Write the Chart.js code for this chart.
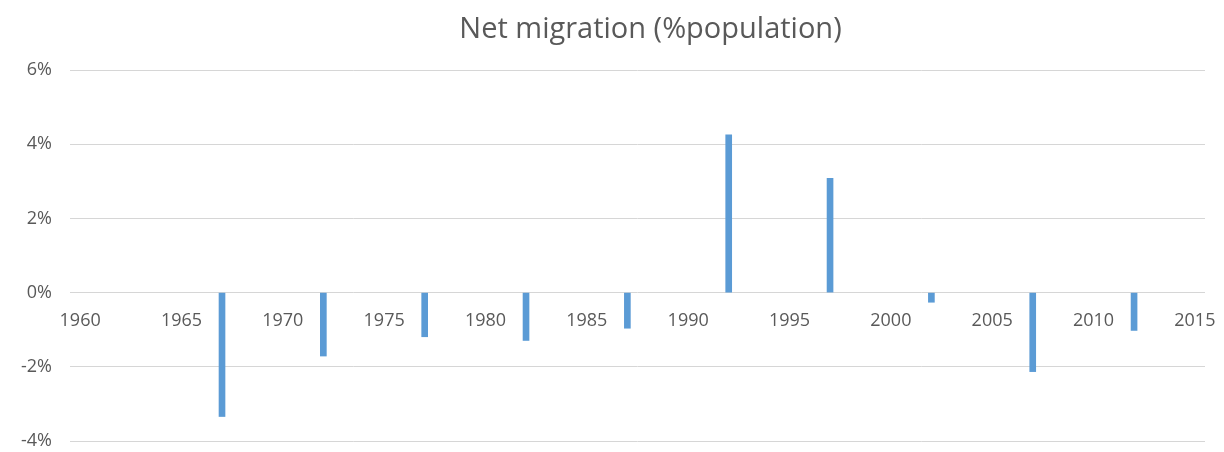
<!DOCTYPE html>
<html>
<head>
<meta charset="utf-8">
<title>Net migration (%population)</title>
<script src="https://cdn.jsdelivr.net/npm/chart.js@4/dist/chart.umd.min.js"></script>
<style>
  html, body { margin: 0; padding: 0; background: #ffffff; }
  #wrap { width: 1224px; height: 452px; }
</style>
</head>
<body>
<div id="wrap"><canvas id="chart" width="1224" height="452"></canvas></div>
<script>
// Years on the category axis (one slot per year)
const years = [];
for (let y = 1960; y <= 2015; y++) years.push(y);

// Years that carry a value, and the net migration in % of population
const dataYears = [1967, 1972, 1977, 1982, 1987, 1992, 1997, 2002, 2007, 2012];
const netMigration = [-3.34, -1.71, -1.19, -1.29, -0.96, 4.25, 3.08, -0.26, -2.13, -1.02];

// Axis settings
const yTicks = [-4, -2, 0, 2, 4, 6];
const labelEvery = 5;
const chartTitle = 'Net migration (%population)';

const series = years.map(yr => {
  const k = dataYears.indexOf(yr);
  return k >= 0 ? netMigration[k] : null;
});

const textColor = '#595959';
const gridColor = '#d6d6d6';

// Title centred over the plot area
const titlePlugin = {
  id: 'plotTitle',
  afterDraw(chart) {
    const { ctx, chartArea } = chart;
    ctx.save();
    ctx.font = '29px "Open Sans", sans-serif';
    ctx.fillStyle = textColor;
    ctx.textAlign = 'center';
    ctx.textBaseline = 'alphabetic';
    ctx.fillText(chartTitle, (chartArea.left + chartArea.right) / 2 + 13, 38);
    ctx.restore();
  }
};

new Chart(document.getElementById('chart'), {
  type: 'bar',
  data: {
    labels: years,
    datasets: [{
      label: chartTitle,
      data: series,
      backgroundColor: '#5B9BD5',
      borderWidth: 0,
      barThickness: 6
    }]
  },
  options: {
    responsive: false,
    animation: false,
    layout: { padding: { top: 70, right: 19, bottom: 11, left: 0 } },
    plugins: {
      legend: { display: false },
      title: { display: false },
      tooltip: { enabled: false }
    },
    scales: {
      x: {
        position: { y: 0 },
        grid: { display: false },
        border: { display: false },
        afterFit: scale => {
          scale.height = 0;
          scale.paddingLeft = 0;
          scale.paddingRight = 0;
        },
        ticks: {
          autoSkip: false,
          maxRotation: 0,
          minRotation: 0,
          padding: 9,
          color: textColor,
          font: { family: '"Open Sans", sans-serif', size: 18 },
          callback: (v, i) => (years[i] % labelEvery === 0 ? String(years[i]) : '')
        }
      },
      y: {
        min: yTicks[0],
        max: yTicks[yTicks.length - 1],
        afterBuildTicks: scale => { scale.ticks = yTicks.map(v => ({ value: v })); },
        afterFit: scale => {
          scale.width = 70;
          scale.paddingTop = 0;
          scale.paddingBottom = 0;
        },
        grid: { color: gridColor, lineWidth: 1, drawTicks: false },
        border: { display: false },
        ticks: {
          padding: 18,
          color: textColor,
          font: { family: '"Open Sans", sans-serif', size: 18 },
          callback: v => v + '%'
        }
      }
    }
  },
  plugins: [titlePlugin]
});
</script>
</body>
</html>
